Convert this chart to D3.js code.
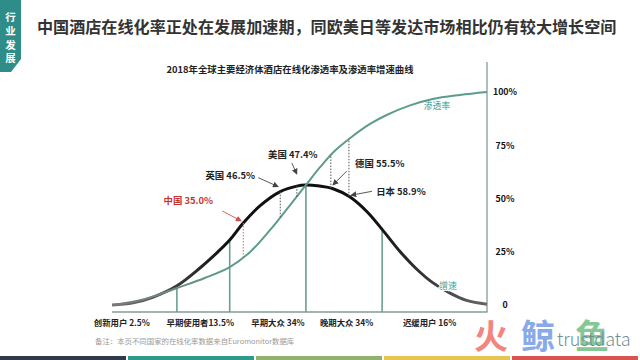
<!DOCTYPE html>
<html><head><meta charset="utf-8">
<script src="https://cdn.jsdelivr.net/npm/d3@7/dist/d3.min.js"></script>
<style>
body{margin:0;background:#fff}
svg{display:block}
text{font-family:"Noto Sans CJK SC","Noto Sans",sans-serif}
</style>
</head><body>
<svg id="c" width="640" height="360"></svg>
<script>
// ---------- data ----------
const pageTitle = "中国酒店在线化率正处在发展加速期，同欧美日等发达市场相比仍有较大增长空间";
const chartTitle = "2018年全球主要经济体酒店在线化渗透率及渗透率增速曲线";
const sideTag = ["行","业","发","展"];
const footNote = "备注：本页不同国家的在线化率数据来自Euromonitor数据库";

// adoption position (standard-deviation units) and curve values (% of right axis)
const growthPos   = [-2.57,-2.29,-2.03,-1.71,-1.40,-1.18,-1.01,-0.83,-0.61,-0.34,-0.12,0,0.15,0.36,0.58,0.81,1.01,1.25,1.47,1.68,1.91,2.13,2.40];
const growthRate  = [0,1.0,3.6,9.0,17.5,24.5,30.5,38.5,46.5,53.2,55.8,56.3,56.0,54.6,50.8,43.8,35.5,25.0,16.8,10.5,5.6,2.2,0.4];
const penetrationPos = [-2.57,-2.13,-1.71,-1.34,-1.01,-0.74,-0.48,-0.21,0,0.19,0.38,0.58,0.85,1.07,1.38,1.68,2.04,2.40];
const penetration    = [0,2.8,8.0,12.7,17.8,24.9,35.0,46.9,56.3,64.8,72.3,78.2,85.0,89.2,93.7,96.7,98.6,100];

const stageBounds   = [-1.71,-1.01,0,1.01];
const stageLabels   = ["创新用户 2.5%","早期使用者13.5%","早期大众 34%","晚期大众 34%","迟缓用户 16%"];
const stageLabelPos = [-2.44,-1.40,-0.37,0.54,1.64];

const yTicks      = [0,25,50,75,100];
const yTickLabels = ["0","25%","50%","75%","100%"];

const countries    = ["中国","英国","美国","德国","日本"];
const countryRates = ["35.0%","46.5%","47.4%","55.5%","58.9%"];
const countryPos   = [-0.83,-0.34,-0.12,0.33,0.57];

// ---------- layout ----------
const svg = d3.select("#c");
const x = d3.scaleLinear().domain([-2.57, 2.40]).range([112, 487]);
const y = d3.scaleLinear().domain([0, 100]).range([305, 92]);
const axisY = 312, axisTop = 62;
const teal = "#5c9b8d";

// side tag
svg.append("path").attr("d","M0,0H21V59L11,72H0Z").attr("fill","#2e8d88");
const tag = svg.append("text").attr("text-anchor","middle").attr("font-size",10.5)
  .attr("font-weight","bold").attr("fill","#fff");
tag.selectAll("tspan").data(sideTag).enter().append("tspan")
  .attr("x",10.5).attr("y",(d,i)=>21+i*13.8).text(d=>d);

// titles
svg.append("text").attr("x",37).attr("y",33).attr("font-size",16.1).attr("font-weight","bold")
  .attr("fill","#333").text(pageTitle);
svg.append("text").attr("x",290).attr("y",72.5).attr("text-anchor","middle").attr("font-size",9.4)
  .attr("font-weight","bold").attr("fill","#222").text(chartTitle);

// defs
const defs = svg.append("defs");
const g1 = defs.append("linearGradient").attr("id","bellG").attr("gradientUnits","userSpaceOnUse")
  .attr("x1",112).attr("x2",487).attr("y1",0).attr("y2",0);
[[0,"#777"],[0.3,"#111"],[0.7,"#111"],[1,"#666"]].forEach(s=>g1.append("stop").attr("offset",s[0]).attr("stop-color",s[1]));
const g2 = defs.append("linearGradient").attr("id","sG").attr("gradientUnits","userSpaceOnUse")
  .attr("x1",112).attr("x2",487).attr("y1",0).attr("y2",0);
[[0,"#7a7a7a"],[0.3,teal],[1,teal]].forEach(s=>g2.append("stop").attr("offset",s[0]).attr("stop-color",s[1]));
function marker(id,col){
  defs.append("marker").attr("id",id).attr("viewBox","0 0 10 10").attr("refX",9).attr("refY",5)
    .attr("markerWidth",6).attr("markerHeight",6).attr("markerUnits","userSpaceOnUse").attr("orient","auto")
    .append("path").attr("d","M0,0L10,5L0,10Z").attr("fill",col);
}
marker("arD","#444"); marker("arR","#c9524f");

// axis lines
svg.append("line").attr("x1",x.range()[0]).attr("x2",x.range()[1]+0.5).attr("y1",axisY).attr("y2",axisY)
  .attr("stroke","#7f9e98").attr("stroke-width",1.3);
svg.append("line").attr("x1",x.range()[1]).attr("x2",x.range()[1]).attr("y1",axisTop).attr("y2",axisY)
  .attr("stroke","#7f9e98").attr("stroke-width",1.3);

// right axis labels
const yAxis = d3.axisRight(y).tickValues(yTicks).tickFormat((d,i)=>yTickLabels[i]).tickSize(0);
const ga = svg.append("g").attr("transform","translate(505,0)").call(yAxis);
ga.select(".domain").remove();
ga.selectAll("text").attr("x",0).attr("text-anchor","middle").attr("font-size",8.8)
  .attr("font-weight","bold").attr("fill","#111").attr("font-family","'Noto Sans','DejaVu Sans',sans-serif");

// curves
const mk = pos => d3.line().x((d,i)=>x(pos[i])).y(d=>y(d)).curve(d3.curveCatmullRom.alpha(0.5));
const bell = svg.append("path").attr("d",mk(growthPos)(growthRate)).attr("fill","none")
  .attr("stroke","url(#bellG)").attr("stroke-width",3);
const sPath = svg.append("path").attr("d",mk(penetrationPos)(penetration)).attr("fill","none")
  .attr("stroke","url(#sG)").attr("stroke-width",2);

function yAt(node, px){
  let lo=0, hi=node.getTotalLength();
  for(let k=0;k<40;k++){ const mid=(lo+hi)/2; if(node.getPointAtLength(mid).x<px) lo=mid; else hi=mid; }
  return node.getPointAtLength((lo+hi)/2).y;
}

// stage dividers
svg.selectAll(".div").data(stageBounds).enter().append("line")
  .attr("x1",d=>x(d)).attr("x2",d=>x(d)).attr("y1",axisY).attr("y2",d=>yAt(bell.node(),x(d)))
  .attr("stroke","#6b9e92").attr("stroke-width",1.6);
bell.raise(); sPath.raise();

// stage labels
svg.selectAll(".sl").data(stageLabels).enter().append("text")
  .attr("x",(d,i)=>x(stageLabelPos[i])).attr("y",325.5).attr("text-anchor","middle")
  .attr("font-size",8.4).attr("font-weight","bold").attr("fill","#222").text(d=>d);

// curve labels
svg.append("text").attr("x",437).attr("y",108.5).attr("text-anchor","middle").attr("font-size",8.8)
  .attr("fill","#3f9b8f").text("渗透率");
svg.append("text").attr("x",448).attr("y",289).attr("text-anchor","middle").attr("font-size",9)
  .attr("fill","#4aa3a0").attr("stroke","#fff").attr("stroke-width",2).attr("paint-order","stroke").text("增速");

// country annotations: [label dx, label dy, arrow start dx, dy, arrow end dx, dy]
const annot = [
  [-55,-22,-21,-12,-2,-2],
  [-50,-16,-22,-14,-2,-5],
  [-4,-32,-5,-23,0,-12],
  [49,-25,16,-17,2,-3],
  [52,-5,23,-5,2,-1]
];
countries.forEach((c,i)=>{
  const px = x(countryPos[i]);
  const yb = yAt(bell.node(),px), ys = yAt(sPath.node(),px);
  const red = i===0;
  svg.append("line").attr("x1",px).attr("x2",px).attr("y1",yb).attr("y2",ys)
    .attr("stroke",red?"#d66":"#555").attr("stroke-width",1).attr("stroke-dasharray","1.5,1.5");
  const a = annot[i];
  svg.append("line").attr("x1",px+a[2]).attr("y1",yb+a[3]).attr("x2",px+a[4]).attr("y2",yb+a[5])
    .attr("stroke",red?"#c9524f":"#444").attr("stroke-width",0.9).attr("marker-end",red?"url(#arR)":"url(#arD)");
  svg.append("text").attr("x",px+a[0]).attr("y",yb+a[1]+3.5).attr("text-anchor","middle")
    .attr("font-size",9.4).attr("font-weight","bold").attr("fill",red?"#c8322f":"#222")
    .text(c+" "+countryRates[i]);
});

// footnote
svg.append("text").attr("x",95).attr("y",344).attr("font-size",7.4).attr("fill","#9a9a9a").text(footNote);

// logo watermark
const logo = svg.append("g");
[["火",491,"#f4857e"],["鲸",538,"#88aae8"],["鱼",592,"#86c895"]].forEach(l=>{
  logo.append("text").attr("x",l[1]).attr("y",349).attr("text-anchor","middle").attr("font-size",34)
    .attr("font-weight","bold").attr("fill",l[2]).text(l[0]);
});
logo.append("text").attr("x",557).attr("y",346).attr("font-size",18).attr("font-family","Lato")
  .attr("font-weight",300).attr("fill","#6f8f95").text("trustdata");

// bottom colour strip
const stripCols = ["#2f3b4c","#2e9a8c","#8fb26c","#e6c650","#d9534f"];
svg.selectAll(".strip").data(stripCols).enter().append("rect")
  .attr("x",(d,i)=>i*128).attr("y",356).attr("width",126).attr("height",4).attr("fill",d=>d);
</script>
</body></html>
